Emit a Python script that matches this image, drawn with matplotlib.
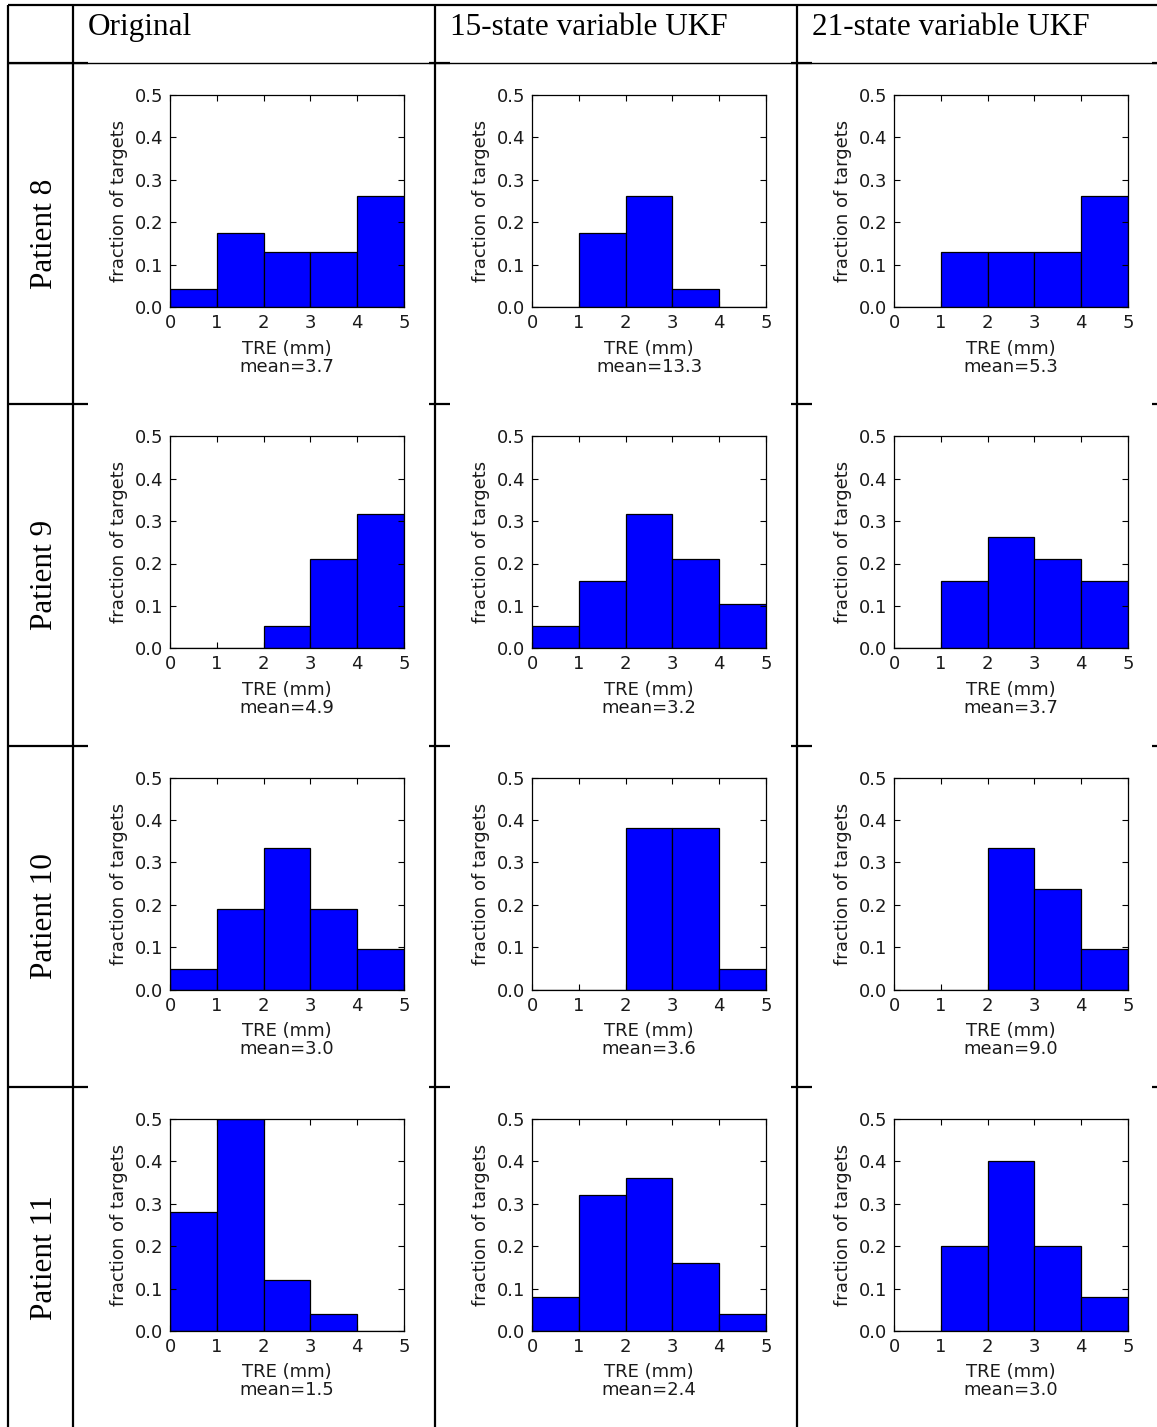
import matplotlib
matplotlib.use("Agg")
import matplotlib.pyplot as plt
from matplotlib.lines import Line2D

# --- DATA ---
patients = ["Patient 8", "Patient 9", "Patient 10", "Patient 11"]
methods = ["Original", "15-state variable UKF", "21-state variable UKF"]
bin_edges = [0, 1, 2, 3, 4, 5]

# fraction of targets per 1 mm TRE bin, one row per patient
frac_original = [
    [0.043, 0.174, 0.130, 0.130, 0.261],
    [0.000, 0.000, 0.053, 0.211, 0.316],
    [0.048, 0.190, 0.333, 0.190, 0.095],
    [0.280, 0.500, 0.120, 0.040, 0.000],
]
frac_ukf15 = [
    [0.000, 0.174, 0.261, 0.043, 0.000],
    [0.053, 0.158, 0.316, 0.211, 0.105],
    [0.000, 0.000, 0.381, 0.381, 0.048],
    [0.080, 0.320, 0.360, 0.160, 0.040],
]
frac_ukf21 = [
    [0.000, 0.130, 0.130, 0.130, 0.261],
    [0.000, 0.158, 0.263, 0.211, 0.158],
    [0.000, 0.000, 0.333, 0.238, 0.095],
    [0.000, 0.200, 0.400, 0.200, 0.080],
]

mean_original = [3.7, 4.9, 3.0, 1.5]
mean_ukf15 = [13.3, 3.2, 3.6, 2.4]
mean_ukf21 = [5.3, 3.7, 9.0, 3.0]

# --- LAYOUT (pixels) ---
W, H = 1157, 1427
DPI = 100
COL_LINES = [7.5, 73, 435, 797]
TOP_LINE = 5
HEADER_LINE = 63
ROW_LINES = [404, 746, 1087]
ROW_H = 341.3
COL_W = 362
AX_LEFT, AX_TOP, AX_W, AX_H = 170, 95, 234, 212

fig = plt.figure(figsize=(W / DPI, H / DPI), dpi=DPI)
fig.patch.set_facecolor("white")


def fx(x):
    return x / W


def fy(y):
    return 1 - y / H


def hline(y, x0, x1, lw=1.6):
    fig.add_artist(Line2D([fx(x0), fx(x1)], [fy(y), fy(y)], color="black", lw=lw,
                          solid_capstyle="butt"))


def vline(x, y0, y1, lw=1.6):
    fig.add_artist(Line2D([fx(x), fx(x)], [fy(y0), fy(y1)], color="black", lw=lw,
                          solid_capstyle="butt"))


# table frame
for x in COL_LINES:
    vline(x, TOP_LINE, H)
hline(TOP_LINE, COL_LINES[0], W)
hline(HEADER_LINE, COL_LINES[0], W, lw=1.0)
for y in [HEADER_LINE] + ROW_LINES:
    hline(y, COL_LINES[0], COL_LINES[1] + 15)
    for x in COL_LINES[2:]:
        hline(y, x - 6, x + 15)
    hline(y, W - 5, W)

serif = "Liberation Serif"

# column headers
for c, name in enumerate(methods):
    fig.text(fx(COL_LINES[c + 1] + 15), fy(35), name, family=serif, fontsize=22.5,
             ha="left", va="baseline")

# row headers
for r, name in enumerate(patients):
    fig.text(fx(52), fy(HEADER_LINE + ROW_H * (r + 0.5)), name, family=serif,
             fontsize=22.5, rotation=90, rotation_mode="anchor",
             ha="center", va="baseline")

columns = [
    (frac_original, mean_original),
    (frac_ukf15, mean_ukf15),
    (frac_ukf21, mean_ukf21),
]

TXT = "#1a1a1a"
FS = 13

for c, (fracs, means) in enumerate(columns):
    for r in range(len(patients)):
        left = AX_LEFT + COL_W * c
        top = AX_TOP + ROW_H * r
        ax = fig.add_axes([fx(left), fy(top + AX_H), AX_W / W, AX_H / H])
        ax.hist(bin_edges[:-1], bins=bin_edges, weights=fracs[r],
                color="#0000ff", edgecolor="black", linewidth=0.9)
        ax.set_xlim(0, 5)
        ax.set_ylim(0, 0.5)
        ax.set_xticks(bin_edges)
        ax.set_yticks([0.0, 0.1, 0.2, 0.3, 0.4, 0.5])
        ax.set_yticklabels([f"{v:.1f}" for v in ax.get_yticks()])
        ax.tick_params(direction="in", top=True, right=True, length=4.5, width=0.8,
                       labelsize=FS, pad=5, colors="black", labelcolor=TXT)
        for s in ax.spines.values():
            s.set_linewidth(0.9)
        ax.set_ylabel("fraction of targets", fontsize=FS, labelpad=5, color=TXT)
        ax.set_xlabel(f"TRE (mm)\nmean={means[r]:.1f}", fontsize=FS, labelpad=5.5,
                      color=TXT, linespacing=1.0)

fig.savefig("out.png", dpi=DPI, facecolor="white")
